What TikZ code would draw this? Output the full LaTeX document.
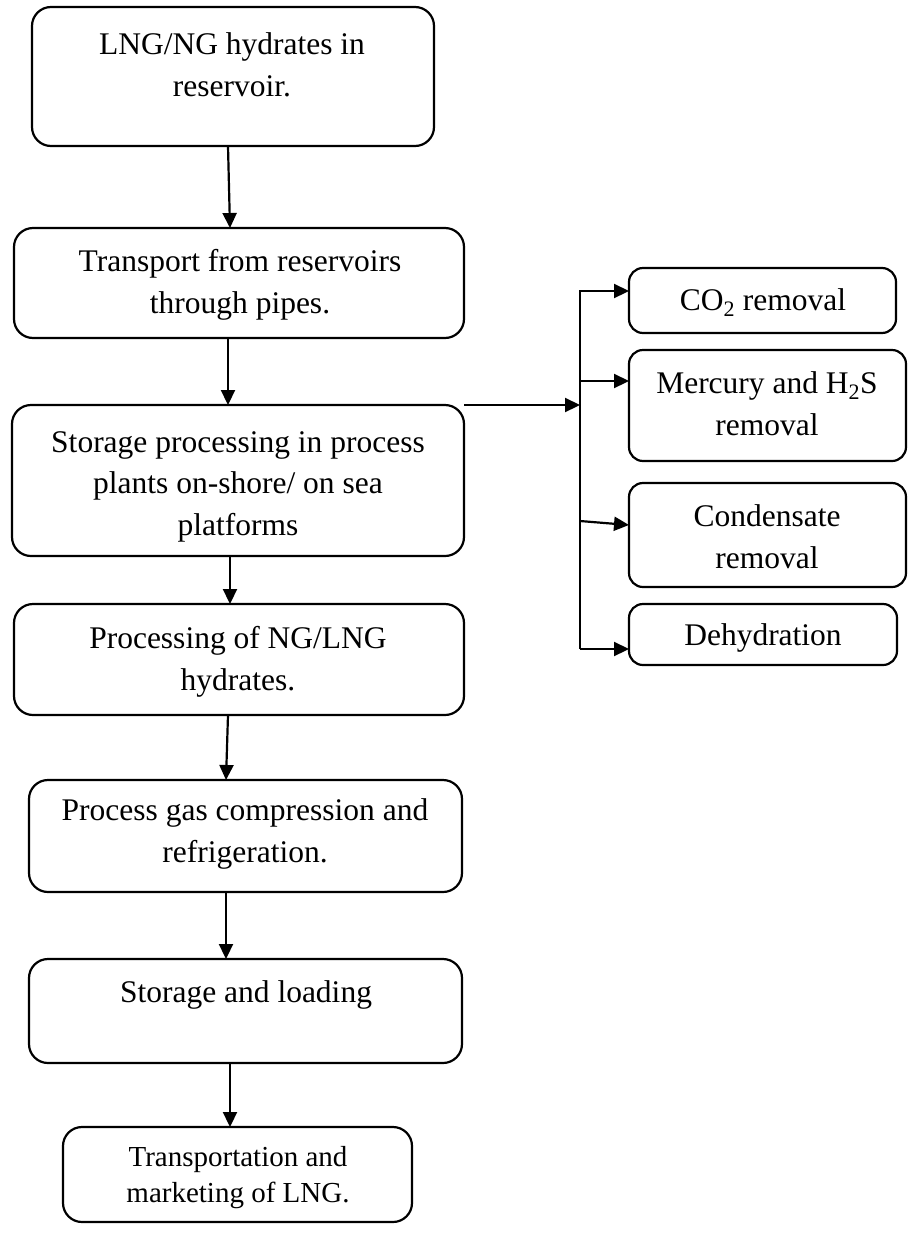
\documentclass[tikz,border=0pt]{standalone}
\usepackage{fontspec}
\setmainfont{Liberation Serif}
\usetikzlibrary{arrows.meta}
\begin{document}
\begin{tikzpicture}[x=1pt,y=-1pt,
  box/.style={draw,line width=2.2pt,rounded corners=19pt,inner sep=0pt,outer sep=0pt},
  sbox/.style={draw,line width=2.2pt,rounded corners=14pt,inner sep=0pt,outer sep=0pt},
  txt/.style={anchor=base,align=center,inner sep=0pt,font=\fontsize{31.5}{41.5}\selectfont},
  stxt/.style={anchor=base,align=center,inner sep=0pt,font=\fontsize{29}{35.5}\selectfont},
  arr/.style={line width=2.2pt,line join=miter,-{Triangle[length=15pt,width=14pt]}},
  ]
\useasboundingbox (0,0) rectangle (911,1256);
% main column boxes
\node[box,minimum width=402pt,minimum height=139pt] (b1) at (233,76.5) {};
\node[box,minimum width=450pt,minimum height=110pt] (b2) at (239,283) {};
\node[box,minimum width=452pt,minimum height=151pt] (b3) at (238,480.5) {};
\node[box,minimum width=450pt,minimum height=111pt] (b4) at (239,659.5) {};
\node[box,minimum width=433pt,minimum height=112pt] (b5) at (245.5,836) {};
\node[box,minimum width=433pt,minimum height=104pt] (b6) at (245.5,1011) {};
\node[box,minimum width=349pt,minimum height=95pt] (b7) at (237.5,1174.5) {};
% right boxes
\node[sbox,minimum width=267pt,minimum height=65pt] (r1) at (762.5,300.5) {};
\node[sbox,minimum width=277pt,minimum height=111pt] (r2) at (767.5,405.5) {};
\node[sbox,minimum width=277pt,minimum height=104pt] (r3) at (767.5,535) {};
\node[sbox,minimum width=268pt,minimum height=61pt] (r4) at (763,634.5) {};
% texts (anchor base = baseline of last line)
\node[txt] (t1) at (232,96) {LNG/NG hydrates in\\reservoir.};
\node[txt] (t2) at (240,313) {Transport from reservoirs\\through pipes.};
\node[txt] (t3) at (238,535) {Storage processing in process\\plants on-shore/ on sea\\platforms};
\node[txt] (t4) at (238,690) {Processing of NG/LNG\\hydrates.};
\node[txt] (t5) at (245,862) {Process gas compression and\\refrigeration.};
\node[txt] (t6) at (246,1002) {Storage and loading};
\node[stxt] (t7) at (238,1202) {Transportation and\\marketing of LNG.};
\node[txt] (u1) at (763,310) {CO\textsubscript{2} removal};
\node[txt] (u2) at (767,435) {Mercury and H\textsubscript{2}S\\removal};
\node[txt] (u3) at (767,568) {Condensate\\removal};
\node[txt] (u4) at (763,645) {Dehydration};
% main arrows
\draw[arr] ([xshift=-5pt]b1.south) -- ([xshift=-9pt]b2.north);
\draw[arr] ([xshift=-11pt]b2.south) -- ([xshift=-10pt]b3.north);
\draw[arr] ([xshift=-8pt]b3.south) -- ([xshift=-9pt]b4.north);
\draw[arr] ([xshift=-11pt]b4.south) -- ([xshift=-19.5pt]b5.north);
\draw[arr] ([xshift=-19.5pt]b5.south) -- ([xshift=-19.5pt]b6.north);
\draw[arr] ([xshift=-15.5pt]b6.south) -- ([xshift=-7.5pt]b7.north);
% branch
\coordinate (busT) at (580,291);
\coordinate (bus2) at (580,381);
\coordinate (bus3) at (580,521);
\coordinate (busB) at (580,649);
\draw[arr] (b3.north east) -- (b3.north east -| busT);
\draw[arr] (busB) -- (busT) -- (busT -| r1.west);
\draw[arr] (bus2) -- (bus2 -| r2.west);
\draw[arr] (bus3) -- ([yshift=-4pt]bus3 -| r3.west);
\draw[arr] (busB) -- (busB -| r4.west);
\end{tikzpicture}
\end{document}
